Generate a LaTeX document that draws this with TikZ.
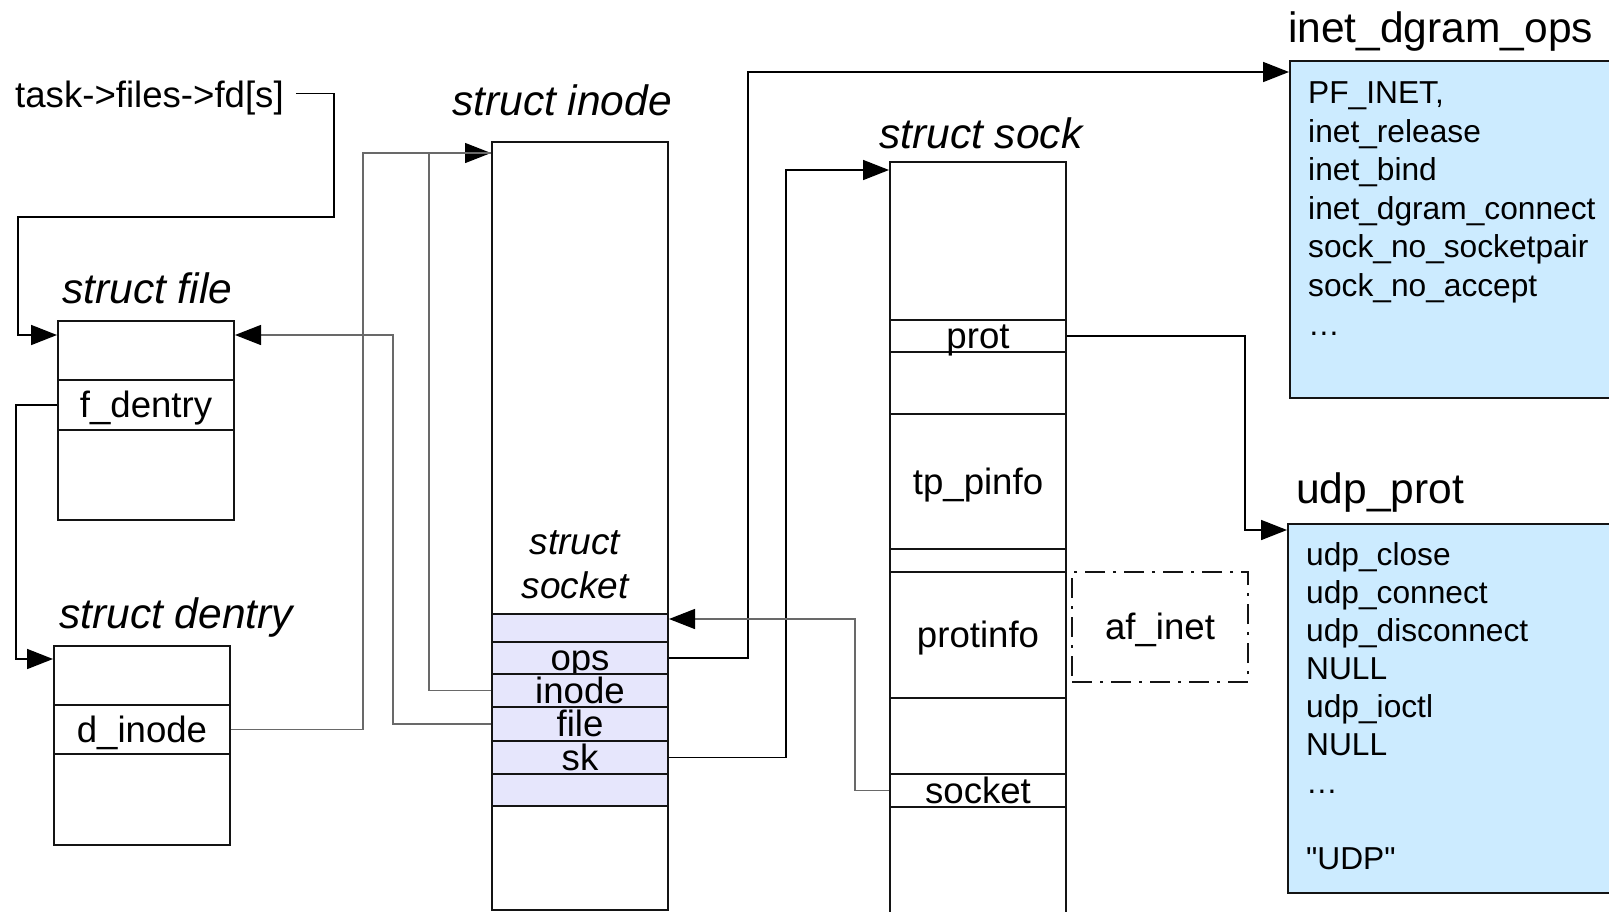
\documentclass[tikz,border=0pt]{standalone}
\usepackage{fontspec}
\setmainfont{Liberation Sans}[Ligatures=TeXOff]
\usetikzlibrary{arrows.meta}
\definecolor{opsfill}{RGB}{204,235,255}
\definecolor{sockfill}{RGB}{230,230,252}
\definecolor{boxedge}{RGB}{20,20,20}
\definecolor{linkgray}{RGB}{105,105,105}

\begin{document}
\begin{tikzpicture}[x=1pt,y=-1pt,
    >={Triangle[length=26pt,width=20pt,color=black]},
    structtitle/.style={anchor=base west,inner sep=0pt,
      font=\fontsize{42.5}{48}\selectfont\itshape},
    tabletitle/.style={anchor=base west,inner sep=0pt,
      font=\fontsize{42.5}{48}\selectfont},
    field/.style={draw=boxedge,line width=2pt,anchor=north west,
      inner sep=0pt,minimum width=176,text height=26,text depth=0.6,
      font=\fontsize{36.6}{40}\selectfont},
    sockrow/.style={field,fill=sockfill},
    tablebox/.style={draw=boxedge,line width=1.6pt,fill=opsfill,
      anchor=north west,inner sep=0pt,minimum width=340},
    tableentry/.style={anchor=base west,inner sep=0pt,
      font=\fontsize{31.7}{36}\selectfont},
    link/.style={line width=1.7pt},
    graylink/.style={line width=1.4pt,draw=linkgray}]
  \clip (0,0) rectangle (1609,911);

  % --- struct file / struct dentry ---
  \node[anchor=base west,inner sep=0pt,font=\fontsize{36.6}{40}\selectfont]
    (task) at (15,107) {task->files->fd[s]};
  \node[structtitle] (filettl) at (62,303) {struct file};
  \node[field,minimum height=199] (file) at (57,320) {};
  \node[field,minimum height=50] (fdentry) at (57,379) {f\_dentry};

  \node[structtitle] (dentryttl) at (59,628) {struct dentry};
  \node[field,minimum height=199] (dentry) at (53,645) {};
  \node[field,minimum height=49] (dinode) at (53,704) {d\_inode};

  % --- struct inode with embedded struct socket ---
  \node[structtitle] (inodettl) at (452,115) {struct inode};
  \node[field,minimum height=768] (inode) at (491,141) {};
  \node[font=\fontsize{37}{44}\selectfont\itshape,align=center,inner sep=0pt]
    (sockttl) at (575,565) {struct\\socket};
  \foreach \nm/\rowy/\rowh/\txt in {srow1/613/28/{},sops/641/32/ops,
      sinode/673/33/inode,sfile/706/34/file,ssk/740/33/sk,srow6/773/32/{}}
    \node[sockrow,minimum height=\rowh] (\nm) at (491,\rowy) {\txt};

  % --- struct sock ---
  \node[structtitle] (sockttl2) at (879,148) {struct sock};
  \node[field,minimum height=770] (sock) at (889,161) {};
  \node[field,minimum height=32] (kprot) at (889,319) {prot};
  \node[field,minimum height=135] (ktp) at (889,413) {tp\_pinfo};
  \node[field,minimum height=126] (kinfo) at (889,571) {protinfo};
  \node[field,minimum height=33] (ksocket) at (889,773) {socket};
  \node[field,minimum height=110,dash pattern=on 20pt off 8pt on 3pt off 8pt]
    (afinet) at (1071,571) {af\_inet};

  % --- operation tables ---
  \node[tabletitle] (inetttl) at (1288,42) {inet\_dgram\_ops};
  \node[tablebox,minimum height=337] (inetops) at (1289,60) {};
  \foreach \txt [count=\i from 0] in {{PF\_INET,},inet\_release,inet\_bind,
      inet\_dgram\_connect,sock\_no\_socketpair,sock\_no\_accept,…}
    \node[tableentry] (inet\i) at (1308,103.5+38.6*\i) {\txt};

  \node[tabletitle] (udpttl) at (1296,503) {udp\_prot};
  \node[tablebox,minimum height=369] (udpprot) at (1287,523) {};
  \foreach \txt/\k in {udp\_close/0,udp\_connect/1,udp\_disconnect/2,NULL/3,
      udp\_ioctl/4,NULL/5,…/6,"UDP"/8}
    \node[tableentry] (udp\k) at (1306,565+38*\k) {\txt};

  % --- pointers ---
  \draw[link,->] ([xshift=12,yshift=4]task.east) -| (334,217) -- (18,217)
    |- ([yshift=-15]file.north west);
  \draw[link,->] (fdentry.west) -- ++(-41,0)
    |- ([yshift=-14]dentry.north west);
  \draw[graylink,->] (dinode.east) -- ++(132,0)
    |- ([yshift=-12]inode.north west);
  \draw[graylink] (sinode.west) -- ++(-62,0)
    |- ([yshift=-12]inode.north west);
  \draw[graylink,->] (sfile.west) -- ++(-98,0)
    |- ([yshift=-15]file.north east);
  \draw[link,->] (sops.east) -- ++(79,0)
    |- ([yshift=-12]inetops.north west);
  \draw[link,->] (ssk.east) -- ++(117,0)
    |- ([yshift=-9]sock.north west);
  \draw[graylink,->] (ksocket.west) -- ++(-34,0)
    |- ([yshift=-6]srow1.north east);
  \draw[link,->] (kprot.east) -- ++(178,0)
    |- ([yshift=-7]udpprot.north west);
\end{tikzpicture}
\end{document}
